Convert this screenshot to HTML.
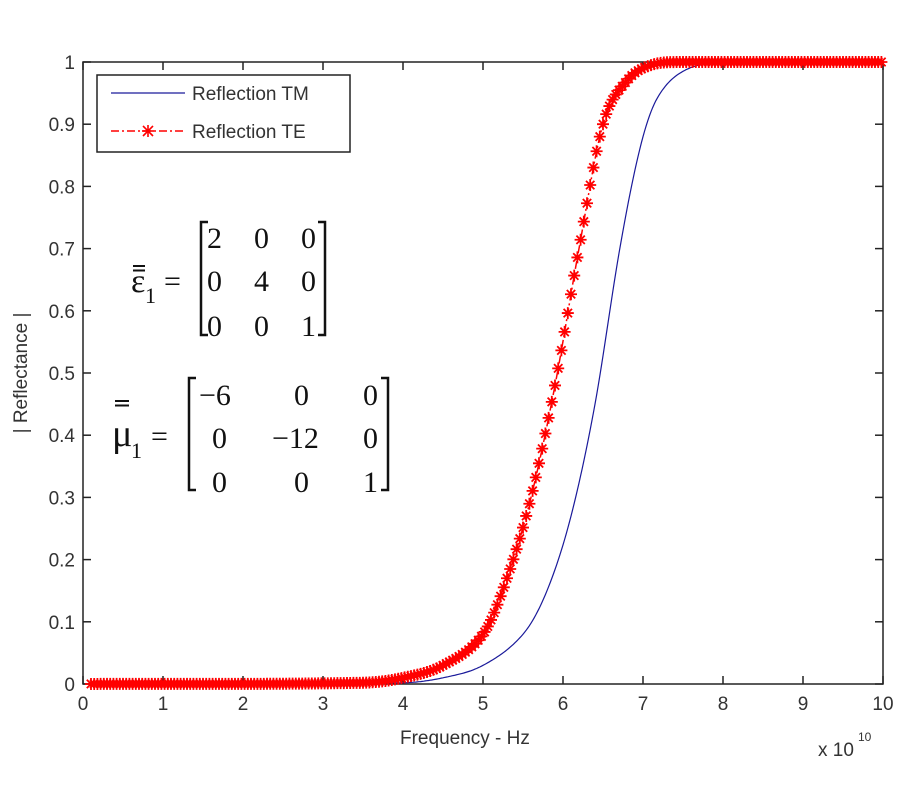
<!DOCTYPE html>
<html><head><meta charset="utf-8"><style>
body{margin:0;background:#fff;}
svg text{font-family:"Liberation Sans",sans-serif;}
.m{font-family:"Liberation Serif",serif;font-size:30px;fill:#111;}
</style></head><body>
<svg id="s" width="900" height="800" xmlns="http://www.w3.org/2000/svg">
<rect x="83" y="62" width="800" height="622" fill="#fff" stroke="#222" stroke-width="1.5"/>
<g id="ticks" stroke="#222" stroke-width="1.5"></g>
<g id="lab" font-size="19" fill="#333"></g>
<text x="400" y="744" font-size="19" fill="#333">Frequency - Hz</text>
<text x="818" y="756" font-size="19" fill="#333">x 10</text>
<text x="858" y="741" font-size="12" fill="#333">10</text>
<text transform="translate(27,373) rotate(-90)" text-anchor="middle" font-size="19" fill="#333">| Reflectance |</text>
<path id="tm" fill="none" stroke="#1a1a9a" stroke-width="1.2"/>
<path id="te" fill="none" stroke="#ff0000" stroke-width="1.5" stroke-dasharray="8,3,2,3"/>
<g id="mk" stroke="#ff0000" stroke-width="1.8"></g>
<rect x="97" y="75" width="253" height="77" fill="#fff" stroke="#222" stroke-width="1.5"/>
<line x1="111" y1="93" x2="185" y2="93" stroke="#1a1a9a" stroke-width="1.2"/>
<line x1="111" y1="131" x2="185" y2="131" stroke="#ff0000" stroke-width="1.5" stroke-dasharray="8,3,2,3"/>
<g stroke="#ff0000" stroke-width="1.6"><line x1="142" y1="131" x2="154" y2="131"/><line x1="148" y1="125" x2="148" y2="137"/><line x1="143" y1="126" x2="153" y2="136"/><line x1="153" y1="126" x2="143" y2="136"/></g>
<text x="192" y="100" font-size="19" fill="#333">Reflection TM</text>
<text x="192" y="138" font-size="19" fill="#333">Reflection TE</text>
<text class="m" x="131" y="292" style="font-size:34px">ε</text>
<path d="M133,266h12M133,270.5h12M115,401h14M115,405.5h14" stroke="#111" stroke-width="2"/>
<text class="m" x="145" y="303" style="font-size:22px">1</text>
<text class="m" x="164" y="291">=</text>
<path d="M208,222 h-7 v113 h7 M318,222 h7 v113 h-7" fill="none" stroke="#111" stroke-width="2.5"/>
<text class="m" x="207" y="248">2</text><text class="m" x="254" y="248">0</text><text class="m" x="301" y="248">0</text>
<text class="m" x="207" y="291">0</text><text class="m" x="254" y="291">4</text><text class="m" x="301" y="291">0</text>
<text class="m" x="207" y="336">0</text><text class="m" x="254" y="336">0</text><text class="m" x="301" y="336">1</text>
<text class="m" x="112" y="446" style="font-size:38px">μ</text>
<text class="m" x="131" y="458" style="font-size:22px">1</text>
<text class="m" x="151" y="446">=</text>
<path d="M196,378 h-7 v112 h7 M381,378 h7 v112 h-7" fill="none" stroke="#111" stroke-width="2.5"/>
<text class="m" x="199" y="405">−6</text><text class="m" x="294" y="405">0</text><text class="m" x="363" y="405">0</text>
<text class="m" x="212" y="448">0</text><text class="m" x="272" y="448">−12</text><text class="m" x="363" y="448">0</text>
<text class="m" x="212" y="492">0</text><text class="m" x="294" y="492">0</text><text class="m" x="363" y="492">1</text>
</svg>
<script>
var X=f=>83+f*80, Y=r=>684-r*622;
var t=document.getElementById('ticks'),l=document.getElementById('lab'),ns='http://www.w3.org/2000/svg';
function el(p,tag,a,txt){var e=document.createElementNS(ns,tag);for(var k in a)e.setAttribute(k,a[k]);if(txt!=null)e.textContent=txt;p.appendChild(e);}
for(var i=0;i<=10;i++){var x=X(i);el(t,'line',{x1:x,y1:684,x2:x,y2:676});el(t,'line',{x1:x,y1:62,x2:x,y2:70});el(l,'text',{x:x,y:710,'text-anchor':'middle'},String(i));}
for(var i=0;i<=10;i++){var y=Y(i/10);el(t,'line',{x1:83,y1:y,x2:91,y2:y});el(t,'line',{x1:883,y1:y,x2:875,y2:y});el(l,'text',{x:75,y:y+7,'text-anchor':'end'},i==0?'0':i==10?'1':(i/10).toFixed(1));}
var TE=[[0,0],[3.5,0.002],[4,0.01],[4.5,0.03],[5,0.08],[5.3,0.17],[5.6,0.3],[5.9,0.48],[6.2,0.7],[6.5,0.9],[6.8,0.97],[7.1,0.995],[7.5,1],[10,1]];
var TM=[[0,0],[4,0.002],[4.5,0.01],[5,0.03],[5.5,0.08],[5.8,0.15],[6.1,0.27],[6.4,0.45],[6.71,0.70],[6.96,0.86],[7.17,0.94],[7.5,0.985],[8,1],[10,1]];
function ev(P,f){for(var i=0;i<P.length-1;i++){if(f<=P[i+1][0]){var p0=P[Math.max(0,i-1)],p1=P[i],p2=P[i+1],p3=P[Math.min(P.length-1,i+2)];var u=(f-p1[0])/(p2[0]-p1[0]);var m1=(p2[1]-p0[1])/(p2[0]-p0[0]||1)*(p2[0]-p1[0]),m2=(p3[1]-p1[1])/(p3[0]-p1[0]||1)*(p2[0]-p1[0]);var u2=u*u,u3=u2*u;var v=(2*u3-3*u2+1)*p1[1]+(u3-2*u2+u)*m1+(-2*u3+3*u2)*p2[1]+(u3-u2)*m2;return Math.max(0,Math.min(1,v));}}return 1;}
function path(P){var d='';for(var f=0.1;f<=10.001;f+=0.02){d+=(d?'L':'M')+X(f).toFixed(1)+','+Y(ev(P,f)).toFixed(1);}return d;}
document.getElementById('tm').setAttribute('d',path(TM));
document.getElementById('te').setAttribute('d',path(TE));
var mk=document.getElementById('mk');
for(var f=0.1;f<=10.001;f+=0.04){var x=X(f),y=Y(ev(TE,f)),s=6;el(mk,'path',{d:'M'+(x-s)+','+y+'h'+2*s+'M'+x+','+(y-s)+'v'+2*s+'M'+(x-4.2)+','+(y-4.2)+'l8.4,8.4M'+(x+4.2)+','+(y-4.2)+'l-8.4,8.4'});}
</script>
</body></html>
